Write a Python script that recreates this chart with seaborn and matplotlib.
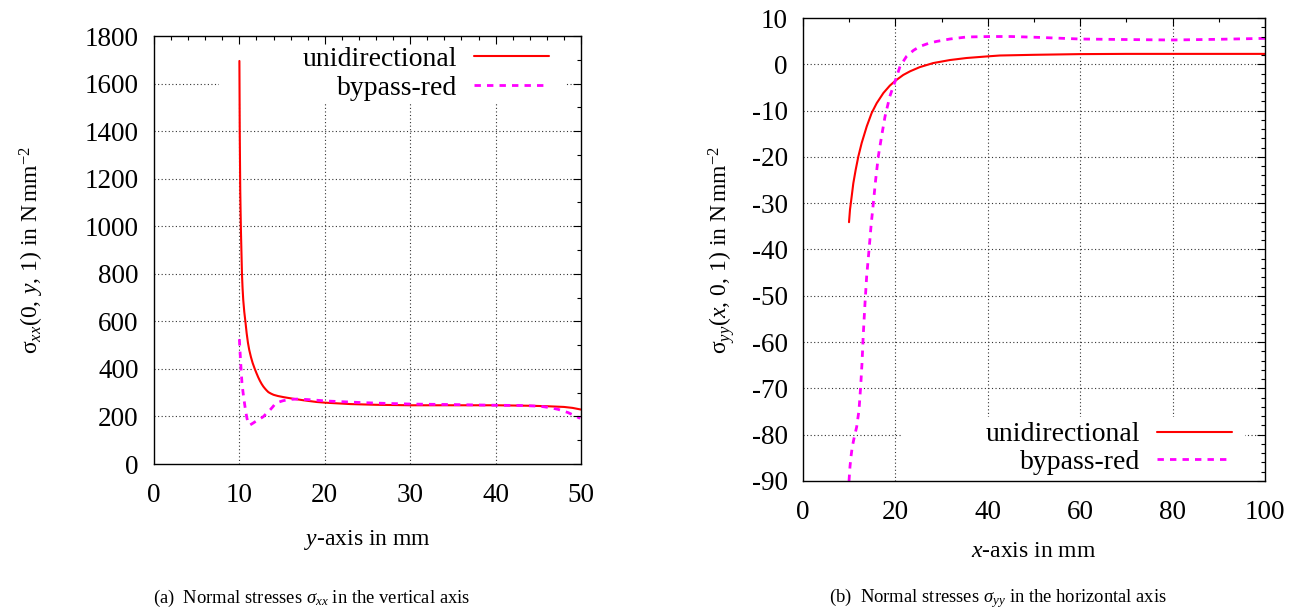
import numpy as np
import pandas as pd
import matplotlib
matplotlib.use("Agg")
import matplotlib.pyplot as plt
from matplotlib.ticker import MultipleLocator
from matplotlib.patches import Rectangle
import seaborn as sns

# ---- (a) sigma_xx along the vertical axis ----
ya_uni = [10.0, 10.02, 10.04, 10.07, 10.1, 10.14, 10.18, 10.24, 10.3, 10.37,
          10.45, 10.57, 10.7, 10.85, 11.0, 11.15, 11.35, 11.55, 11.8, 12.0,
          12.2, 12.4, 12.6, 12.8, 13.0, 13.2, 13.4, 13.7, 14.0, 14.5,
          15.2, 16.2, 17.5, 19.0, 20.0, 23.0, 26.0, 30.0, 35.0, 40.0,
          44.0, 46.0, 48.0, 49.0, 50.0]
sxx_uni = [1695, 1550, 1400, 1270, 1150, 1060, 980, 890, 800, 740,
           690, 640, 600, 550, 510, 480, 450, 425, 400, 382,
           365, 350, 337, 326, 317, 309, 302, 296, 291, 286,
           281, 275, 268, 261, 258, 252, 249, 247, 247, 247,
           245, 243, 240, 236, 229]

ya_byp = [10.0, 10.04, 10.08, 10.15, 10.22, 10.3, 10.42, 10.54, 10.66, 10.77,
          10.87, 10.97, 11.1, 11.24, 11.6, 12.02, 12.4, 12.8, 13.2, 13.58,
          13.9, 14.17, 14.45, 14.75, 15.1, 15.5, 16.1, 16.7, 18.0, 20.2,
          22.0, 24.5, 27.0, 30.2, 35.0, 40.2, 43.0, 44.5, 45.6, 46.5,
          47.3, 48.5, 49.9]
sxx_byp = [525, 495, 470, 426, 385, 341, 303, 270, 240, 215,
           195, 180, 168, 164, 172, 182, 190, 199, 214, 227,
           240, 252, 258, 262, 266, 269, 272, 273, 271, 265,
           262, 258, 255, 252, 250, 247, 246, 244, 241, 236,
           230, 216, 192]

# ---- (b) sigma_yy along the horizontal axis ----
xb_uni = [9.96, 10.17, 10.53, 10.89, 11.4, 11.98, 12.7, 13.8, 14.87, 15.95,
          17.4, 18.8, 20.06, 21.7, 23.2, 25.3, 28.2, 31.8, 35.4, 39.8,
          42.6, 50.0, 60.0, 70.0, 80.0, 90.0, 100.0]
syy_uni = [-34.1, -31.4, -28.6, -25.7, -22.8, -19.9, -17.0, -13.4, -10.5, -8.4,
           -6.2, -4.6, -3.5, -2.3, -1.5, -0.6, 0.27, 0.92, 1.36, 1.7,
           1.9, 2.05, 2.2, 2.25, 2.25, 2.25, 2.25]

xb_byp = [9.96, 10.17, 10.39, 10.67, 11.04, 11.62, 12.12, 12.48, 12.77, 13.06,
          13.42, 13.78, 14.29, 14.72, 15.22, 15.73, 16.3, 17.0, 17.75, 18.8,
          20.06, 21.0, 22.4, 23.9, 25.3, 27.1, 28.9, 31.8, 35.4, 40.5,
          45.0, 50.0, 60.0, 70.0, 80.0, 90.0, 100.0]
syy_byp = [-90.0, -86.9, -84.7, -82.6, -80.8, -78.3, -74.7, -69.6, -64.6, -58.1,
           -51.6, -45.8, -40.1, -35.0, -30.0, -24.9, -19.9, -15.6, -11.3, -6.9,
           -3.3, -0.46, 1.7, 3.0, 3.86, 4.5, 4.94, 5.46, 5.9, 6.0,
           6.0, 5.85, 5.46, 5.35, 5.25, 5.4, 5.6]

series_names = ["unidirectional", "bypass-red"]
series_colors = ["#ff0000", "#ff00ff"]

sns.set_theme(style="white")
plt.rcParams.update({
    "font.family": ["Liberation Serif", "DejaVu Serif"],
    "mathtext.fontset": "custom",
    "mathtext.rm": "Liberation Serif",
    "mathtext.it": "Liberation Serif:italic",
    "mathtext.bf": "Liberation Serif:bold",
    "axes.unicode_minus": False,
    "text.color": "black",
    "axes.labelcolor": "black",
    "xtick.color": "black",
    "ytick.color": "black",
})

W, H = 1303, 610
fig = plt.figure(figsize=(W / 100, H / 100), dpi=100)


def px_axes(x0, y0, x1, y1):
    return fig.add_axes([x0 / W, 1 - y1 / H, (x1 - x0) / W, (y1 - y0) / H])


def style(ax, xlim, ylim, xmaj, xmin, ymaj, ymin):
    ax.set_xlim(*xlim)
    ax.set_ylim(*ylim)
    ax.xaxis.set_major_locator(MultipleLocator(xmaj))
    ax.xaxis.set_minor_locator(MultipleLocator(xmin))
    ax.yaxis.set_major_locator(MultipleLocator(ymaj))
    ax.yaxis.set_minor_locator(MultipleLocator(ymin))
    ax.tick_params(which="both", direction="in", top=True, right=True,
                   width=0.8, color="black")
    ax.tick_params(which="major", length=6, labelsize=19.5, pad=11)
    ax.tick_params(which="minor", length=3)
    ax.tick_params(axis="x", which="major", pad=13.7)
    for sp in ax.spines.values():
        sp.set_color("black")
        sp.set_linewidth(1.0)
    ax.set_axisbelow(False)
    ax.grid(False)
    # dotted grid, kept beneath the key background
    for v in ax.get_xticks():
        if xlim[0] < v < xlim[1]:
            ax.axvline(v, color="0.2", lw=0.8, ls=(0, (1, 2.2)), zorder=0.5)
    for v in ax.get_yticks():
        if ylim[0] < v < ylim[1]:
            ax.axhline(v, color="0.2", lw=0.8, ls=(0, (1, 2.2)), zorder=0.5)


def draw(ax, xs, ys):
    styles = ["-", (0, (2.3, 2.2))]
    widths = [1.5, 2.0]
    for x, y, name, c, ls, lw in zip(xs, ys, series_names, series_colors, styles, widths):
        df = pd.DataFrame({"pos": x, "stress": y})
        sns.lineplot(data=df, x="pos", y="stress", ax=ax, color=c, linestyle=ls,
                     lw=lw, estimator=None, sort=False, label=name, zorder=2)


def key(ax, loc, anchor, spacing, box):
    # white key background hides the grid but not the curves
    x0, y0, x1, y1 = box
    ax.add_patch(Rectangle((x0, y0), x1 - x0, y1 - y0, transform=ax.transAxes,
                           facecolor="white", edgecolor="none", zorder=1))
    leg = ax.legend(loc=loc, bbox_to_anchor=anchor, markerfirst=False, frameon=False,
                    fontsize=20, handlelength=2.7, handletextpad=0.6,
                    labelspacing=spacing, borderpad=0.2, borderaxespad=0)
    leg.set_zorder(3)
    return leg


# left panel
axa = px_axes(154, 36, 581, 464)
draw(axa, [ya_uni, ya_byp], [sxx_uni, sxx_byp])
style(axa, (0, 50), (0, 1800), 10, 2, 200, 100)
key(axa, "upper right", (0.938, 0.988), 0.13, (0.152, 0.843, 0.965, 0.99))
axa.set_xlabel(r"$y$-axis in mm", fontsize=17)
axa.set_ylabel(r"$\mathrm{\sigma}_{xx}(0,\,y,\,1)$ in N$\,$mm$^{-2}$", fontsize=17)
axa.xaxis.set_label_coords(0.5, -0.15)
axa.yaxis.set_label_coords(-0.254, 0.5)

# right panel
axb = px_axes(803, 18, 1265, 481)
draw(axb, [xb_uni, xb_byp], [syy_uni, syy_byp])
style(axb, (0, 100), (-90, 10), 20, 10, 10, 2)
key(axb, "lower right", (0.9407, 0.002), 0.06, (0.214, 0.0, 0.957, 0.138))
axb.set_xlabel(r"$x$-axis in mm", fontsize=17)
axb.set_ylabel(r"$\mathrm{\sigma}_{yy}(x,\,0,\,1)$ in N$\,$mm$^{-2}$", fontsize=17)
axb.xaxis.set_label_coords(0.5, -0.13)
axb.yaxis.set_label_coords(-0.143, 0.5)

fig.text(312 / W, 1 - 598 / H, r"(a)  Normal stresses $\sigma_{xx}$ in the vertical axis",
         ha="center", va="center", fontsize=13.4)
fig.text(998 / W, 1 - 598 / H, r"(b)  Normal stresses $\sigma_{yy}$ in the horizontal axis",
         ha="center", va="center", fontsize=13.4)

fig.savefig("out.png", dpi=100, facecolor="white")
